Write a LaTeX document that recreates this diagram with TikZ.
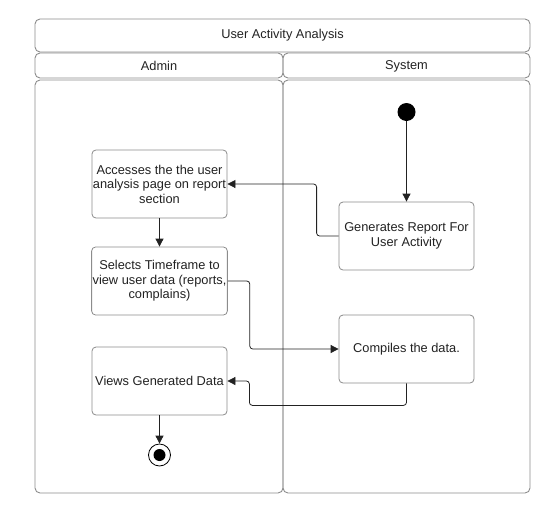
\documentclass[tikz,border=0pt]{standalone}
\usepackage{fontspec}
\setmainfont{Liberation Sans}
\usetikzlibrary{arrows.meta,calc}
\definecolor{bordergray}{HTML}{8C8C8C}
\definecolor{txt}{HTML}{222222}
\tikzset{
  lane/.style={draw=bordergray, line width=0.9pt, rounded corners=5pt},
  act/.style={draw=bordergray, line width=0.8pt, rounded corners=4pt, fill=white,
    minimum width=135pt, minimum height=68pt, align=center, inner sep=1pt,
    font=\fontsize{12.8}{14.5}\selectfont, text=txt},
  lbl/.style={font=\fontsize{12.8}{14.5}\selectfont, text=txt},
  flow/.style={draw=txt, line width=0.8pt, rounded corners=3pt,
    -{Triangle[length=8pt,width=8pt]}},
}
\begin{document}
\begin{tikzpicture}[x=1pt,y=-1pt]
\useasboundingbox (0,0) rectangle (546,509);
% swimlane frame
\draw[lane] (35,19) rectangle (530,52);
\node[lbl] (title) at (282.5,35.5) {User Activity Analysis};
\draw[lane] (35,53) rectangle (283,78);
\draw[lane] (283,53) rectangle (530,78);
\node[lbl] (hadmin) at (159,66) {Admin};
\node[lbl] (hsys) at (406.5,66) {System};
\draw[lane] (35,80) rectangle (283,493);
\draw[lane] (283,80) rectangle (530,493);
% nodes
\node[act] (a1) at (159.5,184) {Accesses the the user\\analysis page on report\\section};
\node[act] (a2) at (159.5,281) {Selects Timeframe to\\view user data (reports,\\complains)};
\node[act] (a3) at (159.5,381) {Views Generated Data};
\node[act] (s1) at (406.5,236) {Generates Report For\\User Activity};
\node[act] (s2) at (406.5,349) {Compiles the data.};
\node[circle, fill=black, minimum size=18pt, inner sep=0pt] (start) at (406.5,112) {};
\node[circle, draw=black, line width=0.8pt, fill=white, minimum size=22pt, inner sep=0pt] (stop) at (159.5,455) {};
\node[circle, fill=black, minimum size=12pt, inner sep=0pt] (stopin) at (stop.center) {};
% connectors
\draw[flow] (start) -- (s1.north);
\draw[flow] (s1.west) -- ++(-22,0) |- (a1.east);
\draw[flow] (a1.south) -- (a2.north);
\draw[flow] (a2.east) -- ++(22,0) |- (s2.west);
\draw[flow] (s2.south) -- ++(0,22) -| ($(a3.east)+(22,0)$) -- (a3.east);
\draw[flow] (a3.south) -- (stop.north);
\end{tikzpicture}
\end{document}
